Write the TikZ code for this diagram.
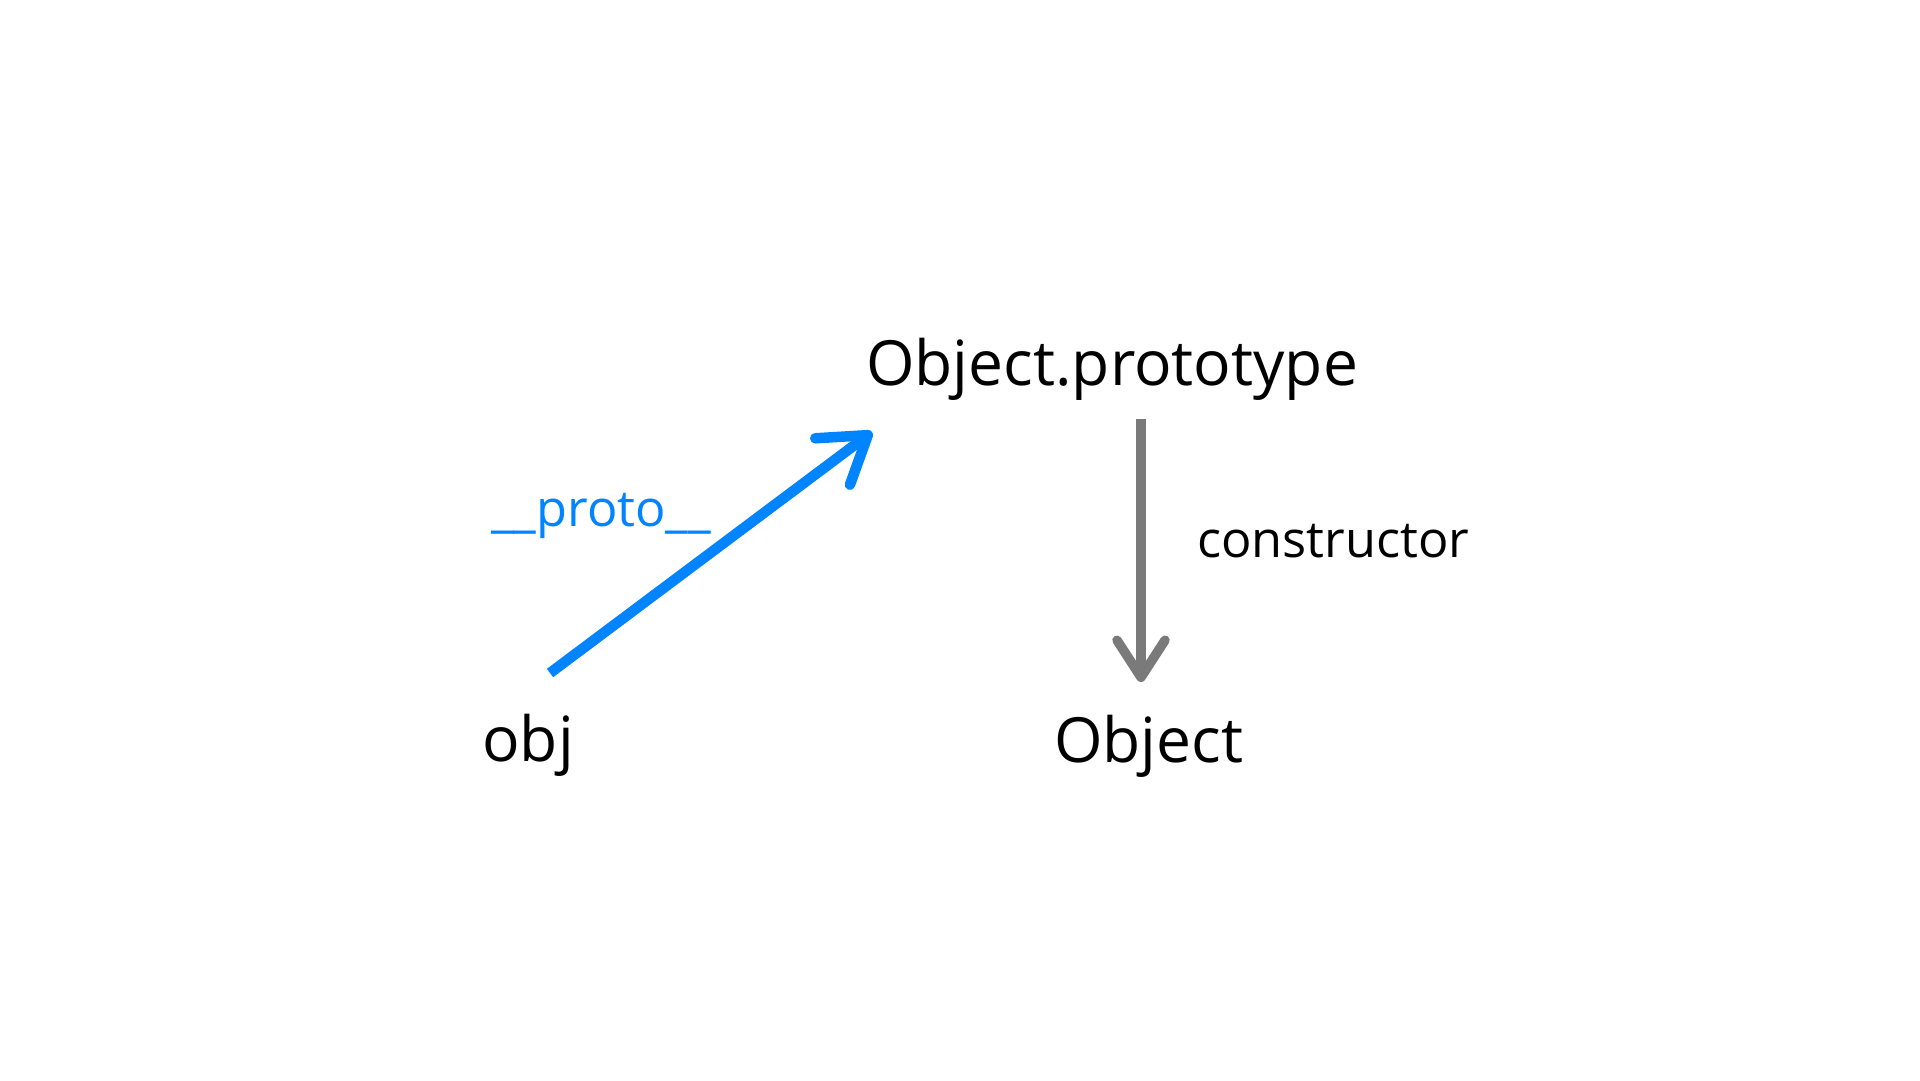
\documentclass[tikz,border=0pt]{standalone}
\usepackage{fontspec}
\setmainfont{Open Sans}
\usetikzlibrary{arrows.meta}
\definecolor{protoblue}{RGB}{0,132,255}
\definecolor{ctorgray}{RGB}{122,122,122}
\begin{document}
\begin{tikzpicture}[x=1pt,y=-1pt,
  big/.style={inner sep=0pt, anchor=base west, font=\fontsize{62.3}{70}\selectfont},
  small/.style={inner sep=0pt, anchor=base west, font=\fontsize{50.5}{56}\selectfont},
  bluearrow/.style={draw=protoblue, line width=10.5pt, -{Straight Barb[length=44pt,width=58pt,round]}},
  grayarrow/.style={draw=ctorgray, line width=9.5pt, -{Straight Barb[length=37pt,width=48pt,round]}}]
\useasboundingbox[fill=white] (0,0) rectangle (1920,1080);
\node[big] (op) at (866,385) {Object.prototype};
\node[big] (obj) at (482,761) {obj};
\node[big] (object) at (1054,762) {Object};
\node[small] (ctor) at (1197,557) {constructor};
\node[small, text=protoblue] (proto) at (491,526) {\_\_proto\_\_};
\draw[grayarrow] ([xshift=275pt,yshift=-34pt]op.base west) -- ([xshift=87pt,yshift=80pt]object.base west);
\draw[bluearrow] ([xshift=68pt,yshift=88pt]obj.base west) -- ([xshift=6pt,yshift=-47pt]op.base west);
\end{tikzpicture}
\end{document}
